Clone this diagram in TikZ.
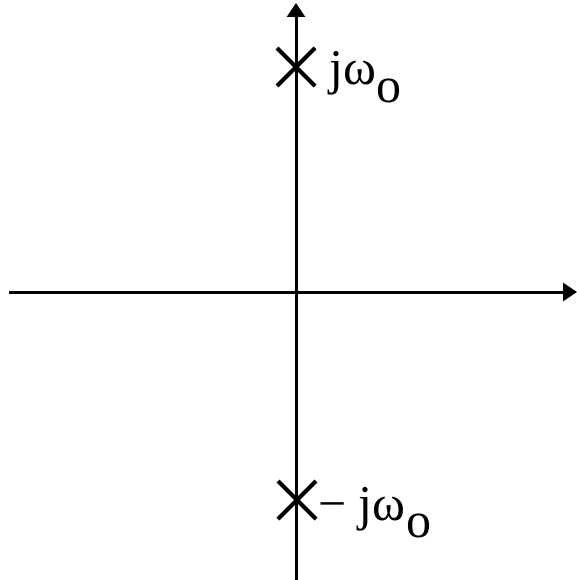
\documentclass[tikz,border=0pt]{standalone}
\usepackage{fontspec}
\setmainfont{Liberation Serif}
\usetikzlibrary{arrows.meta,shapes.misc}
\begin{document}
\begin{tikzpicture}[x=1pt,y=-1pt,
  axis/.style={line width=3pt,-{Triangle[length=14pt,width=18pt]}},
  pole/.style={cross out,draw,line width=4pt,minimum size=34pt,inner sep=0pt},
  lbl/.style={anchor=base west,inner sep=0pt,font=\fontsize{50}{56}\selectfont}]
\useasboundingbox (0,0) rectangle (577,580);
\coordinate (xl) at (9,292);
\coordinate (xr) at (577,292);
\coordinate (yb) at (296,580);
\coordinate (yt) at (296,3);
\draw[axis] (xl) -- (xr);
\draw[axis] (yb) -- (yt);
\node[pole] (p1) at (296,67) {};
\node[pole] (p2) at (297,500) {};
\node[lbl] (l1) at (329,85) {jω};
\node[lbl,anchor=base west] (s1) at ([yshift=-18pt]l1.base east) {o};
\node[lbl] (l2) at (318,520) {− jω};
\node[lbl,anchor=base west] (s2) at ([yshift=-17pt]l2.base east) {o};
\end{tikzpicture}
\end{document}
